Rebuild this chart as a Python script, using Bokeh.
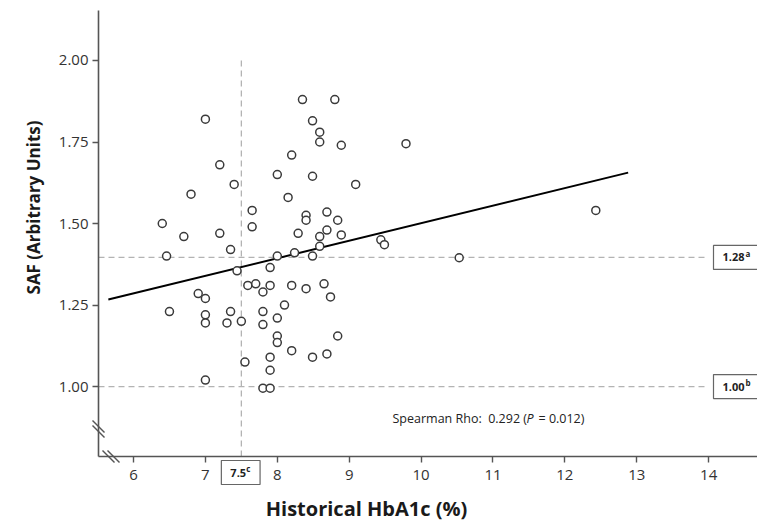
from bokeh.plotting import figure
from bokeh.models import FixedTicker, PrintfTickFormatter, Label, Range1d
from bokeh.embed import file_html
from bokeh.resources import INLINE
import math

# ---- data ----
hba1c = [7.00, 7.20, 7.40, 6.80, 6.40, 6.70, 7.20, 7.35, 6.46,
         8.35, 8.80, 8.49, 8.59, 8.59, 8.89, 8.20, 8.00, 8.49, 9.09,
         8.15, 7.65, 8.40, 8.40, 8.69, 8.84, 7.65, 8.29, 8.69, 8.59,
         8.89, 9.44, 9.49, 8.59, 8.24, 8.00, 8.49,
         7.44, 6.90, 7.00, 6.50, 7.00, 7.00, 7.35, 7.30, 7.50, 7.00,
         7.90, 7.59, 7.70, 7.80, 7.90, 8.20, 8.40, 8.65, 8.74, 8.10,
         7.80, 8.00, 7.80, 8.00, 8.00, 8.84, 8.20, 8.49, 8.69, 7.90,
         7.55, 7.90, 7.80, 7.90,
         9.79, 12.43, 10.53]
saf = [1.82, 1.68, 1.62, 1.59, 1.50, 1.46, 1.47, 1.42, 1.40,
       1.88, 1.88, 1.815, 1.78, 1.75, 1.74, 1.71, 1.65, 1.645, 1.62,
       1.58, 1.54, 1.525, 1.51, 1.535, 1.51, 1.49, 1.47, 1.48, 1.46,
       1.465, 1.45, 1.435, 1.43, 1.41, 1.40, 1.40,
       1.355, 1.285, 1.27, 1.23, 1.22, 1.195, 1.23, 1.195, 1.20, 1.02,
       1.365, 1.31, 1.315, 1.29, 1.31, 1.31, 1.30, 1.315, 1.275, 1.25,
       1.23, 1.21, 1.19, 1.155, 1.135, 1.155, 1.11, 1.09, 1.10, 1.09,
       1.075, 1.05, 0.995, 0.995,
       1.745, 1.54, 1.395]

fit_hba1c = [5.65, 12.88]
fit_saf = [1.267, 1.656]

x_ticks = [6, 7, 8, 9, 10, 11, 12, 13, 14]
y_ticks = [1.00, 1.25, 1.50, 1.75, 2.00]

hba1c_cut = 7.5
saf_cut_hi = 1.396
saf_cut_lo = 1.00
hba1c_cut_label, hba1c_cut_sup = "7.5", "c"
saf_hi_label, saf_hi_sup = "1.28", "a"
saf_lo_label, saf_lo_sup = "1.00", "b"
stat_parts = ["Spearman Rho:\u00a0 0.292 (", "P", "= 0.012)"]

x_title = "Historical HbA1c (%)"
y_title = "SAF (Arbitrary Units)"

# ---- canvas / ranges: the frame covers the whole canvas ----
W, H = 757, 522
x_lo, x_hi = 4.150, 14.679
y_lo, y_hi = 0.583, 2.184


def sx(px):
    return x_lo + px * (x_hi - x_lo) / W


def sy(py):
    return y_hi - py * (y_hi - y_lo) / H


ax_x = sx(98)      # data x where the y axis sits
ax_y = sy(456)     # data y where the x axis sits
ax_top = sy(10)

FONT = "Open Sans"
AX = "#555555"

p = figure(width=W, height=H, x_range=Range1d(x_lo, x_hi), y_range=Range1d(y_lo, y_hi),
           output_backend="svg", toolbar_location=None,
           min_border_left=0, min_border_right=0, min_border_top=0, min_border_bottom=0)
p.outline_line_color = None
p.grid.visible = False
p.background_fill_color = "white"
p.border_fill_color = "white"

for ax in (p.xaxis[0], p.yaxis[0]):
    ax.axis_line_color = AX
    ax.axis_line_width = 1.6
    ax.major_tick_line_color = AX
    ax.major_tick_line_width = 1.4
    ax.major_tick_out = 6
    ax.major_tick_in = 0
    ax.minor_tick_out = 0
    ax.minor_tick_in = 0
    ax.major_label_text_font = FONT
    ax.major_label_text_font_size = "15px"
    ax.major_label_text_color = "#333333"
    ax.major_label_standoff = 4

p.xaxis.major_label_standoff = 7
p.xaxis.ticker = FixedTicker(ticks=x_ticks)
p.yaxis.ticker = FixedTicker(ticks=y_ticks)
p.xaxis.formatter = PrintfTickFormatter(format="%d")
p.yaxis.formatter = PrintfTickFormatter(format="%.2f")
p.xaxis.fixed_location = ax_y
p.yaxis.fixed_location = ax_x
p.xaxis.bounds = (ax_x, x_hi)
p.yaxis.bounds = (ax_y, ax_top)

# reference lines
dash = dict(line_color="#b3b3b3", line_width=1.3, line_dash="6 4")
p.segment(x0=[ax_x, ax_x], y0=[saf_cut_hi, saf_cut_lo], x1=[sx(707), sx(707)],
          y1=[saf_cut_hi, saf_cut_lo], **dash)
p.segment(x0=[hba1c_cut], y0=[ax_y], x1=[hba1c_cut], y1=[2.0], **dash)

# regression line
p.line(fit_hba1c, fit_saf, line_color="black", line_width=2)

# points
p.scatter(hba1c, saf, marker="circle", size=8, fill_color="white",
          line_color="#3a3a3a", line_width=1.5)

# axis breaks (pairs of short slashes across each axis)
bx0, by0, bx1, by1 = [], [], [], []
for cx, cy in ((98, 426), (98, 431), (108, 456), (113, 456)):
    bx0.append(sx(cx - 6)); by0.append(sy(cy - 6))
    bx1.append(sx(cx + 6)); by1.append(sy(cy + 6))
p.segment(x0=bx0, y0=by0, x1=bx1, y1=by1, line_color=AX, line_width=1.4)

# cut-off boxes
box = dict(text_font=FONT, text_font_size="11px", text_font_style="bold",
           text_color="#222222", text_baseline="middle", text_align="left",
           border_line_color="#666666", border_line_width=1.2,
           background_fill_color="white",
           padding=dict(left=9, right=14, top=8, bottom=8))
sup = dict(text_font=FONT, text_font_size="8px", text_font_style="bold",
           text_color="#222222", text_baseline="middle", text_align="left")

for yv, t, s in ((saf_cut_hi, saf_hi_label, saf_hi_sup), (saf_cut_lo, saf_lo_label, saf_lo_sup)):
    p.add_layout(Label(x=x_hi, y=yv, x_offset=-44, text=t, **box))
    p.add_layout(Label(x=x_hi, y=yv, x_offset=-12, y_offset=4, text=s, **sup))

p.add_layout(Label(x=hba1c_cut, y=ax_y, x_offset=-20, y_offset=-16, text=hba1c_cut_label, **box))
p.add_layout(Label(x=hba1c_cut, y=ax_y, x_offset=5, y_offset=-12, text=hba1c_cut_sup, **sup))

# statistics text
st = dict(text_font=FONT, text_font_size="12.5px", text_color="#222222",
          text_baseline="middle", text_align="left")
p.add_layout(Label(x=sx(392), y=sy(418), text=stat_parts[0], **st))
p.add_layout(Label(x=sx(392), y=sy(418), x_offset=134, text=stat_parts[1], text_font_style="italic", **st))
p.add_layout(Label(x=sx(392), y=sy(418), x_offset=146, text=stat_parts[2], **st))

# axis titles
title = dict(text_font=FONT, text_font_style="bold", text_color="#1a1a1a",
             text_baseline="middle", text_align="center")
p.add_layout(Label(x=sx(366), y=sy(508), text=x_title, text_font_size="20px", **title))
p.add_layout(Label(x=sx(33), y=sy(207), angle=math.pi / 2, text=y_title,
                   text_font_size="17px", **title))

open("out.html", "w").write(file_html(p, INLINE))
